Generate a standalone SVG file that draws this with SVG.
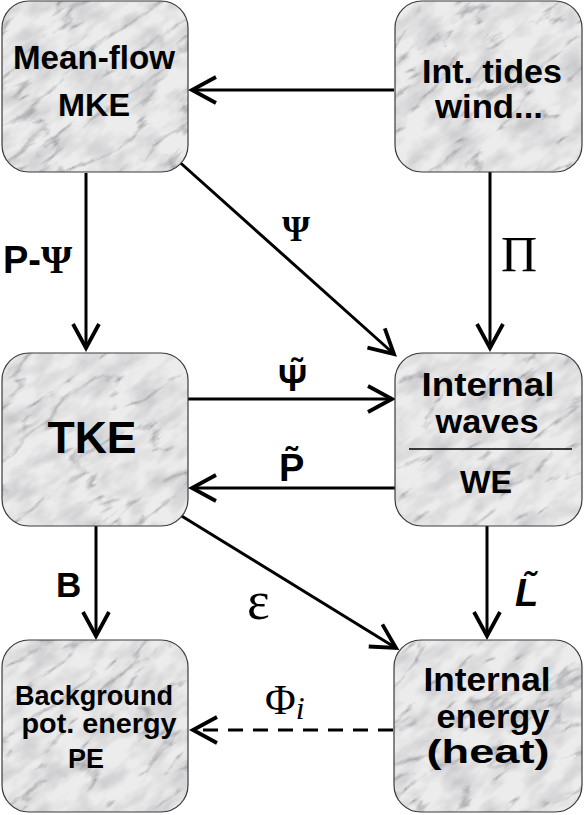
<svg xmlns="http://www.w3.org/2000/svg" width="584" height="815" viewBox="0 0 584 815">
<style>
.box{stroke:#3a3a3a;stroke-width:1.2;fill:url(#marbleP)}
.nt{font-family:"Liberation Sans",Arial,sans-serif;font-weight:bold;fill:#000;text-anchor:middle}
.lb{font-family:"Liberation Sans",Arial,sans-serif;font-weight:bold;fill:#000}
.sf{font-family:"Liberation Serif","Times New Roman",serif;fill:#000}
.conn{stroke:#000;stroke-width:3;fill:none;marker-end:url(#ah)}
</style>
<defs>
<filter id="marble" x="0" y="0" width="100%" height="100%" filterUnits="objectBoundingBox" color-interpolation-filters="sRGB">
<feTurbulence type="turbulence" baseFrequency="0.012 0.035" numOctaves="5" seed="11" result="n"/>
<feColorMatrix in="n" type="matrix" values="0 0 0 0 0.58  0 0 0 0 0.58  0 0 0 0 0.6  -4 0 0 0 0.8" result="veins"/>
<feTurbulence type="fractalNoise" baseFrequency="0.03 0.06" numOctaves="3" seed="4" result="c"/>
<feColorMatrix in="c" type="matrix" values="0 0 0 0 0.7  0 0 0 0 0.7  0 0 0 0 0.72  1.2 0 0 0 -0.45" result="cloud"/>
<feFlood flood-color="#ececec" result="bg"/>
<feComposite in="cloud" in2="bg" operator="over" result="b2"/>
<feComposite in="veins" in2="b2" operator="over"/>
</filter>
<pattern id="marbleP" patternUnits="userSpaceOnUse" x="0" y="0" width="584" height="815">
<g transform="rotate(-35 292 407)">
<rect x="-400" y="-400" width="1400" height="1600" filter="url(#marble)"/>
</g>
</pattern>
<marker id="ah" markerUnits="userSpaceOnUse" markerWidth="34" markerHeight="34" viewBox="-29 -17 34 34" refX="0" refY="0" orient="auto" overflow="visible">
<path d="M-24,-13 L0,0 L-24,13" fill="none" stroke="#000" stroke-width="3.8" stroke-linejoin="miter" stroke-miterlimit="10"/>
</marker>
</defs>
<rect width="584" height="815" fill="#fff"/>

<g id="connectors">
<path class="conn" d="M394,90 L192,90"/>
<path class="conn" d="M86,173 L86,348"/>
<path class="conn" d="M175,158 L394,354"/>
<path class="conn" d="M490,172 L490,348"/>
<path class="conn" d="M188,399 L392,399"/>
<path class="conn" d="M395,488 L192,488"/>
<path class="conn" d="M96,526 L96,636"/>
<path class="conn" d="M180,515 L396,648"/>
<path class="conn" d="M487,526 L487,636"/>
<path class="conn" d="M393,730 L193,730" stroke-dasharray="15 10"/>
</g>

<g id="node-mke">
<rect class="box" x="2" y="1" width="186" height="171" rx="27"/>
<text class="nt" x="94" y="69" font-size="33" textLength="162" lengthAdjust="spacingAndGlyphs">Mean-flow</text>
<text class="nt" x="94" y="116" font-size="32" textLength="72" lengthAdjust="spacingAndGlyphs">MKE</text>
</g>
<g id="node-tides">
<rect class="box" x="395" y="1" width="187" height="171" rx="27"/>
<text class="nt" x="492" y="83" font-size="33" textLength="140" lengthAdjust="spacingAndGlyphs">Int. tides</text>
<text class="nt" x="489" y="118" font-size="33" textLength="108" lengthAdjust="spacingAndGlyphs">wind...</text>
</g>
<g id="node-tke">
<rect class="box" x="2" y="353" width="186" height="173" rx="27"/>
<text class="nt" x="92" y="453" font-size="44" textLength="89" lengthAdjust="spacingAndGlyphs">TKE</text>
</g>
<g id="node-waves">
<rect class="box" x="395" y="353" width="187" height="173" rx="27"/>
<text class="nt" x="488" y="396" font-size="34" textLength="133" lengthAdjust="spacingAndGlyphs">Internal</text>
<text class="nt" x="487" y="433" font-size="34" textLength="103" lengthAdjust="spacingAndGlyphs">waves</text>
<line x1="409" y1="449" x2="572" y2="449" stroke="#000" stroke-width="1.6"/>
<text class="nt" x="486" y="493" font-size="32" textLength="52" lengthAdjust="spacingAndGlyphs">WE</text>
</g>
<g id="node-pe">
<rect class="box" x="2" y="640" width="186" height="172" rx="27"/>
<text class="nt" x="94" y="705" font-size="27" textLength="158" lengthAdjust="spacingAndGlyphs">Background</text>
<text class="nt" x="99" y="733" font-size="27" textLength="155" lengthAdjust="spacingAndGlyphs">pot. energy</text>
<text class="nt" x="86" y="768" font-size="27" textLength="36" lengthAdjust="spacingAndGlyphs">PE</text>
</g>
<g id="node-heat">
<rect class="box" x="394" y="640" width="188" height="172" rx="27"/>
<text class="nt" x="487" y="691" font-size="34" textLength="127" lengthAdjust="spacingAndGlyphs">Internal</text>
<text class="nt" x="493" y="728" font-size="34" textLength="113" lengthAdjust="spacingAndGlyphs">energy</text>
<text class="nt" x="488" y="763" font-size="34" textLength="123" lengthAdjust="spacingAndGlyphs">(heat)</text>
</g>

<g id="labels">
<text class="lb" x="3" y="273" font-size="38">P-<tspan class="sf" font-weight="bold" font-size="40">Ψ</tspan></text>
<text class="sf" x="282" y="241" font-size="36" font-weight="bold">Ψ</text>
<text class="sf" x="501" y="271" font-size="50">Π</text>
<text class="lb" x="278" y="391" font-size="36">Ψ̃</text>
<text class="lb" x="279" y="481" font-size="38">P̃</text>
<text class="lb" x="56" y="597" font-size="35">B</text>
<text class="sf" x="247" y="619" font-size="54">ɛ</text>
<text class="lb" x="515" y="606" font-size="38" font-style="italic">L̃</text>
<text class="sf" x="265" y="714" font-size="42">Φ<tspan font-style="italic" font-size="32" dy="5">i</tspan></text>
</g>
</svg>
